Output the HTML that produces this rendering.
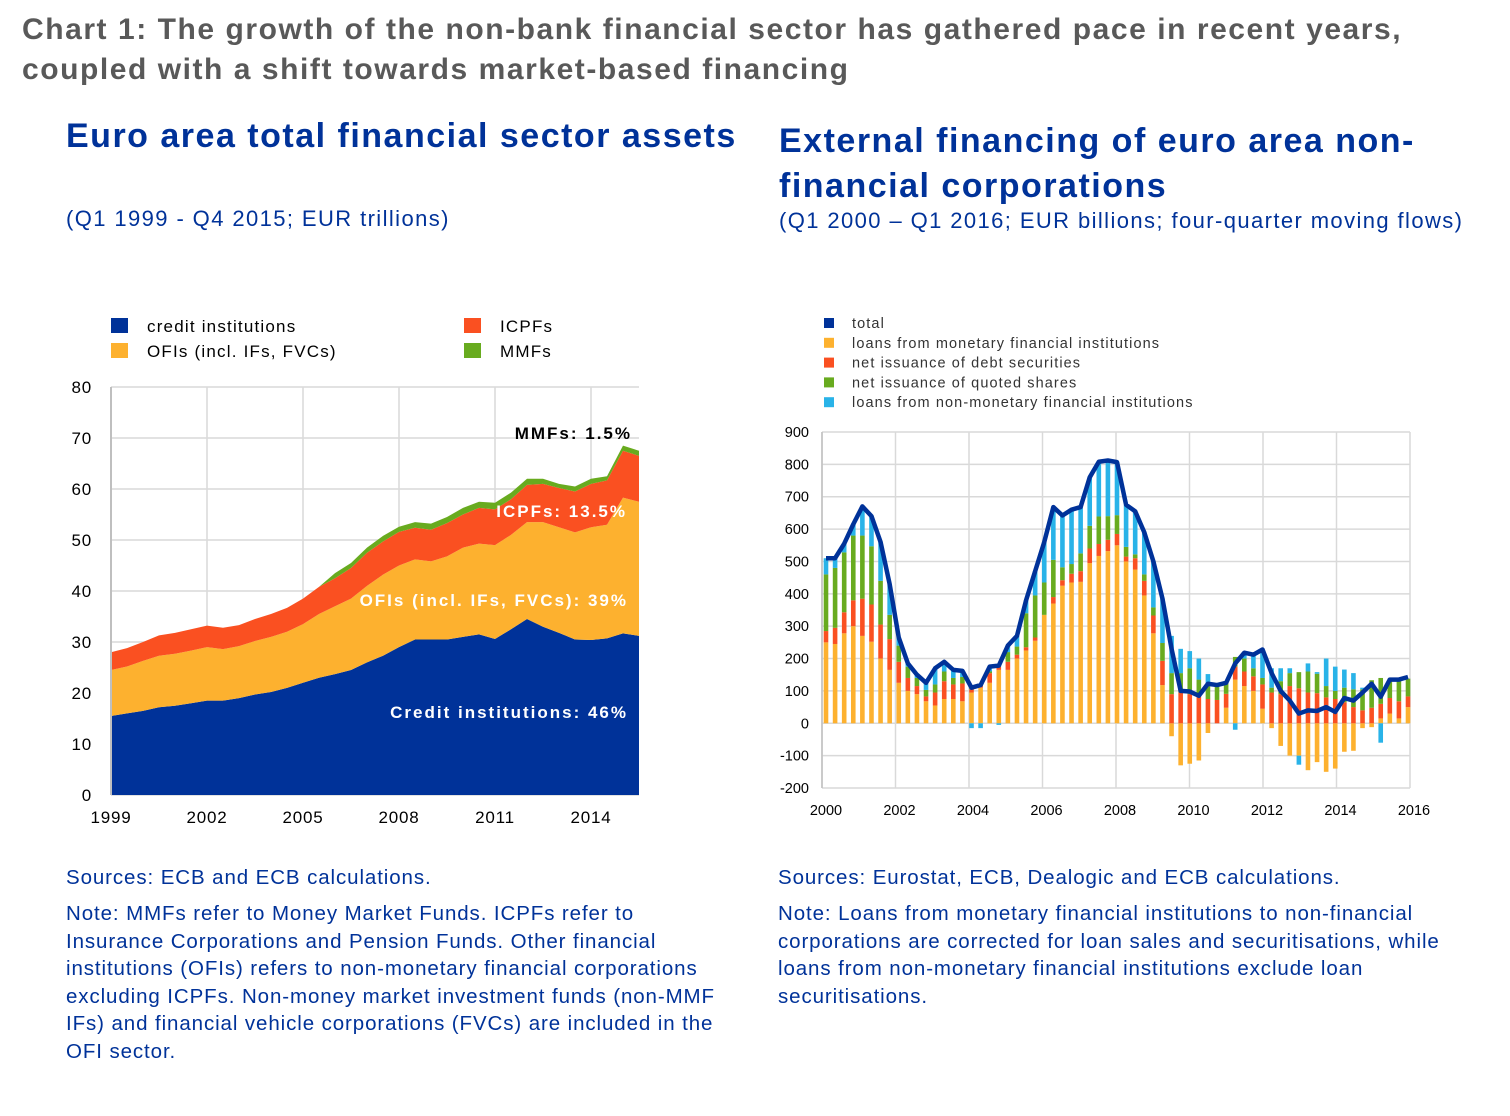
<!DOCTYPE html>
<html><head><meta charset="utf-8"><style>
body{margin:0;width:1510px;height:1116px;background:#fff;font-family:"Liberation Sans",sans-serif;position:relative;overflow:hidden}
.t{position:absolute;white-space:nowrap}
.main{left:22px;color:#595959;font-weight:bold;font-size:30px;letter-spacing:1.55px}
.h2{color:#003299;font-weight:bold;font-size:34px;letter-spacing:1.5px}
.sub{color:#003299;font-size:22px;letter-spacing:1.4px}
.src{color:#003299;font-size:20.5px;line-height:27.5px;white-space:normal;letter-spacing:0.9px}
svg{position:absolute;left:0;top:0}
</style></head><body>
<div class="t main" style="top:13px">Chart 1: The growth of the non-bank financial sector has gathered pace in recent years,</div>
<div class="t main" style="top:53px">coupled with a shift towards market-based financing</div>
<div class="t h2" style="left:66px;top:117px">Euro area total financial sector assets</div>
<div class="t sub" style="left:66px;top:206px">(Q1 1999 - Q4 2015; EUR trillions)</div>
<div class="t h2" style="left:779px;top:119px;line-height:45px">External financing of euro area non-<br>financial corporations</div>
<div class="t sub" style="left:779px;top:208px">(Q1 2000 – Q1 2016; EUR billions; four-quarter moving flows)</div>
<div class="t src" style="left:66px;top:864px;width:680px">Sources: ECB and ECB calculations.</div>
<div class="t src" style="left:66px;top:900px;width:672px">Note: MMFs refer to Money Market Funds. ICPFs refer to Insurance Corporations and Pension Funds. Other financial institutions (OFIs) refers to non-monetary financial corporations excluding ICPFs. Non-money market investment funds (non-MMF IFs) and financial vehicle corporations (FVCs) are included in the OFI sector.</div>
<div class="t src" style="left:778px;top:864px;width:700px">Sources: Eurostat, ECB, Dealogic and ECB calculations.</div>
<div class="t src" style="left:778px;top:900px;width:680px">Note: Loans from monetary financial institutions to non-financial corporations are corrected for loan sales and securitisations, while loans from non-monetary financial institutions exclude loan securitisations.</div>
<svg id="svg" width="1510" height="1116"></svg>
<script>
// ---- Left chart data (semi-annual, 1999H1..2015H2), EUR trillions
const leftYears = ["1999","2002","2005","2008","2011","2014"];
const leftYTicks = [0,10,20,30,40,50,60,70,80];
const credit = [15.5,16,16.5,17.2,17.5,18,18.5,18.5,19,19.7,20.2,21,22,23,23.7,24.5,26,27.3,29,30.5,30.5,30.5,31,31.5,30.6,32.5,34.5,33,31.8,30.5,30.4,30.7,31.7,31.2];
const ofi = [9,9.2,9.8,10.1,10.2,10.3,10.5,10.1,10.2,10.5,10.8,11,11.5,12.5,13.3,14,15,15.9,16,15.7,15.3,16.3,17.5,17.8,18.4,18.5,19,20.5,20.7,21,22.1,22.3,26.6,26.3];
const icpf = [3.5,3.6,3.7,4,4.1,4.2,4.2,4.2,4.1,4.3,4.5,4.7,5,5.3,5.5,6,6.5,6.5,6.6,6.2,6.2,6.5,6.5,7,7,7,7.3,7.5,7.7,8,8.5,8.7,9.2,9];
const mmf = [0,0,0,0,0,0,0,0,0,0,0,0,0,0,1,1,1,1.1,1,1.1,1.2,1.2,1.3,1.2,1.3,1.3,1.2,1.0,0.8,1.0,1.0,0.8,1.0,1.0];
// ---- Right chart data (quarterly, 2000Q1..2016Q1), EUR billions
const rightYears = ["2000","2002","2004","2006","2008","2010","2012","2014","2016"];
const rightYTicks = [-200,-100,0,100,200,300,400,500,600,700,800,900];
const total = [510,510,555,615,670,640,560,430,265,185,150,125,170,190,165,162,110,118,175,178,240,270,380,470,560,668,642,660,668,760,808,812,807,675,655,590,500,385,230,100,98,85,122,118,125,185,218,212,228,155,100,70,30,40,38,50,35,78,70,95,122,82,135,135,143];
const loansMFI = [250,245,278,300,270,252,200,165,125,100,90,68,55,75,75,68,95,110,125,165,165,200,225,255,335,370,425,435,437,495,517,532,550,500,475,395,278,118,-40,-130,-125,-115,-30,0,48,135,115,100,45,-15,-70,-100,-100,-145,-120,-150,-140,-88,-85,-15,-12,15,30,15,50];
const debtSec = [35,50,65,80,115,115,105,95,65,40,25,15,40,55,45,55,10,5,30,10,25,12,10,10,0,20,17,27,33,45,37,35,35,15,35,45,55,75,90,95,90,85,75,72,43,40,45,45,75,95,90,115,108,95,93,80,75,65,50,40,48,45,48,53,33];
const shares = [175,185,185,200,195,180,135,75,50,35,25,20,25,30,20,20,5,5,5,5,30,25,105,130,100,115,40,30,55,70,85,73,58,30,12,20,25,55,65,60,80,50,40,40,34,30,40,25,20,15,40,40,50,65,60,35,25,45,55,65,85,80,60,65,55];
const loansNonMFI = [50,30,27,35,90,93,120,95,25,10,10,20,50,30,25,20,-15,-15,15,-5,20,33,40,75,125,163,160,168,143,150,169,172,164,130,133,130,142,137,115,75,53,65,37,6,0,-20,18,42,88,60,40,15,-28,25,5,85,75,56,50,5,0,-60,0,0,0];

const NS="http://www.w3.org/2000/svg";
const svg=document.getElementById('svg');
function mk(tag,attrs,parent){const e=document.createElementNS(NS,tag);for(const k in attrs)e.setAttribute(k,attrs[k]);(parent||svg).appendChild(e);return e;}

// ===== Left chart =====
const L={x0:111,x1:639,y0:795,y1:387,max:80};
const lx=i=>L.x0+i*(L.x1-L.x0)/(credit.length-1);
const ly=v=>L.y0-(v/L.max)*(L.y0-L.y1);
const lg=mk('g',{});


leftYTicks.forEach(v=>{
  const l=mk('line',{x1:L.x0,x2:L.x1,y1:ly(v),y2:ly(v),stroke:'#d9d9d9','stroke-width':1.5},lg);
  
  
  const t=mk('text',{x:92,y:ly(v)+6,'text-anchor':'end','font-size':17,fill:'#000','letter-spacing':'0.8'},lg);
  t.textContent=v;
  
  
});
leftYears.forEach((y,k)=>{
  const x=lx(k*6);
  const l=mk('line',{x1:x,x2:x,y1:L.y1,y2:L.y0,stroke:'#d9d9d9','stroke-width':1.5},lg);
  
  
  const t=mk('text',{x:x,y:823,'text-anchor':'middle','font-size':17,fill:'#000','letter-spacing':'0.8'},lg);
  t.textContent=y;
  
  
});
const series=[[credit,'#003299','credit-institutions-area'],[ofi,'#fdb12f','ofi-area'],[icpf,'#fa5021','icpf-area'],[mmf,'#68ab1f','mmf-area']];
let base=credit.map(()=>0);
series.forEach(([arr,col,name])=>{
  const top=arr.map((v,i)=>base[i]+v);
  let d='M'+top.map((v,i)=>lx(i)+','+ly(v)).join('L');
  for(let i=arr.length-1;i>=0;i--)d+='L'+lx(i)+','+ly(base[i]);
  const p=mk('path',{d:d+'Z',fill:col},lg);
  
  
  base=top;
});
mk('line',{x1:L.x0,x2:L.x0,y1:L.y1,y2:L.y0,stroke:'#bfbfbf','stroke-width':2},lg);
const ann=[['MMFs: 1.5%',632,439,'#000','mmf-label'],['ICPFs: 13.5%',627,517,'#fff','icpf-label'],['OFIs (incl. IFs, FVCs): 39%',628,606,'#fff','ofi-label'],['Credit institutions: 46%',628,718,'#fff','credit-label']];
ann.forEach(([s,x,y,c,n])=>{const t=mk('text',{x:x,y:y,'text-anchor':'end','font-size':17,'font-weight':'bold',fill:c,'letter-spacing':'2'},lg);t.textContent=s;});
const leg=[['credit institutions','#003299',111,326],['OFIs (incl. IFs, FVCs)','#fdb12f',111,351],['ICPFs','#fa5021',464,326],['MMFs','#68ab1f',464,351]];
leg.forEach(([s,c,x,y])=>{
  const r=mk('rect',{x:x,y:y-8,width:17,height:15,fill:c},lg);
  
  
  const t=mk('text',{x:x+36,y:y+6,'font-size':17,fill:'#000','letter-spacing':'1.2'},lg);
  t.textContent=s;
  
  
});

// ===== Right chart =====
const R={x0:822,x1:1410,y0:788,y1:432,min:-200,max:900};
const rx=i=>R.x0+4+i*(R.x1-R.x0-6)/(total.length-1);
const ry=v=>R.y0-(v-R.min)/(R.max-R.min)*(R.y0-R.y1);
const rg=mk('g',{});


rightYTicks.forEach(v=>{
  const l=mk('line',{x1:R.x0,x2:R.x1,y1:ry(v),y2:ry(v),stroke:'#d9d9d9','stroke-width':1.5},rg);
  
  
  const t=mk('text',{x:809,y:ry(v)+5,'text-anchor':'end','font-size':14.5,fill:'#000'},rg);
  t.textContent=v;
  
  
});
rightYears.forEach((y,k)=>{
  const x=R.x0+k*(R.x1-R.x0)/8;
  const l=mk('line',{x1:x,x2:x,y1:R.y1,y2:R.y0,stroke:'#d9d9d9','stroke-width':1.5},rg);
  
  
  const t=mk('text',{x:x+4,y:815,'text-anchor':'middle','font-size':14.5,fill:'#000'},rg);
  t.textContent=y;
  
  
});
const comps=[[loansMFI,'#fdb12f','bar-loans-mfi'],[debtSec,'#fa5021','bar-debt-securities'],[shares,'#68ab1f','bar-quoted-shares'],[loansNonMFI,'#29b3e8','bar-loans-non-mfi']];
total.forEach((_,i)=>{
  let pos=0,neg=0;
  comps.forEach(([arr,col,name])=>{
    const v=arr[i]; if(!v)return;
    let a,b;
    if(v>0){a=pos;b=pos+v;pos=b;}else{a=neg;b=neg+v;neg=b;}
    const r=mk('rect',{x:rx(i)-2.3,width:4.6,y:Math.min(ry(a),ry(b)),height:Math.abs(ry(a)-ry(b)),fill:col},rg);
    
    
  });
});
mk('line',{x1:R.x0,x2:R.x0,y1:R.y1,y2:R.y0,stroke:'#bfbfbf','stroke-width':1.5},rg);
const tl=mk('polyline',{points:total.map((v,i)=>rx(i)+','+ry(v)).join(' '),fill:'none',stroke:'#003299','stroke-width':4.5,'stroke-linejoin':'round'},rg);


const rleg=[['total','#003299'],['loans from monetary financial institutions','#fdb12f'],['net issuance of debt securities','#fa5021'],['net issuance of quoted shares','#68ab1f'],['loans from non-monetary financial institutions','#29b3e8']];
rleg.forEach(([s,c],k)=>{
  const y=323+k*19.8;
  const r=mk('rect',{x:824,y:y-5,width:10,height:10,fill:c},rg);
  
  
  const t=mk('text',{x:852,y:y+5,'font-size':14.5,fill:'#333','letter-spacing':'1.1'},rg);
  t.textContent=s;
  
  
});
</script>
</body></html>
